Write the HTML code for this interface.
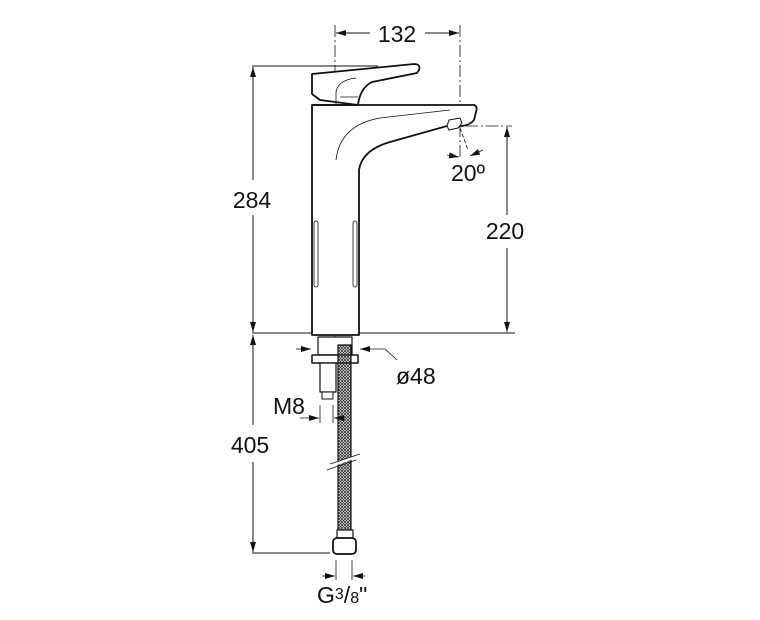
<!DOCTYPE html>
<html><head><style>html,body{margin:0;padding:0;background:#fff}svg{display:block}text{font-family:"Liberation Sans",sans-serif;fill:#111}</style></head>
<body>
<svg width="760" height="620" viewBox="0 0 760 620" xmlns="http://www.w3.org/2000/svg">
<defs>
<marker id="a" markerWidth="10" markerHeight="6" refX="10" refY="3" orient="auto" markerUnits="userSpaceOnUse"><path d="M0,0 L10,3 L0,6 z" fill="#111"/></marker>
<pattern id="mesh" width="3" height="3" patternUnits="userSpaceOnUse"><path d="M0,0 L3,3 M3,0 L0,3" stroke="#333" stroke-width="0.8"/></pattern>
</defs>
<g stroke="#111" fill="none" stroke-width="1">
<line x1="335" y1="25" x2="335" y2="345" stroke-dasharray="12,3,2,3" stroke-width="0.8"/>
<line x1="460" y1="25" x2="460" y2="160" stroke-dasharray="12,3,2,3" stroke-width="0.8"/>
<line x1="370" y1="33" x2="336" y2="33" marker-end="url(#a)"/>
<line x1="425" y1="33" x2="459" y2="33" marker-end="url(#a)"/>
<line x1="252" y1="66" x2="378" y2="66"/>
<line x1="253" y1="180" x2="253" y2="67" marker-end="url(#a)"/>
<line x1="253" y1="215" x2="253" y2="332" marker-end="url(#a)"/>
<line x1="252" y1="333" x2="515" y2="333"/>
<line x1="466" y1="126" x2="512" y2="126" stroke-dasharray="12,3,2,3" stroke-width="0.8"/>
<line x1="507" y1="215" x2="507" y2="127" marker-end="url(#a)"/>
<line x1="507" y1="248" x2="507" y2="332" marker-end="url(#a)"/>
<line x1="253" y1="425" x2="253" y2="335" marker-end="url(#a)"/>
<line x1="253" y1="462" x2="253" y2="552" marker-end="url(#a)"/>
<line x1="252" y1="553" x2="330" y2="553"/>
</g>
<g stroke="#111" fill="#fff" stroke-width="1.8" stroke-linejoin="round">
<path d="M312,74 L414,64 Q421,64 419,70 L417,73 L372,82 Q360,88 358,105 L320,100 L312,94 Z"/>
<path d="M336,104 L336,92 Q338,80 356,78" fill="none" stroke-width="0.8"/>
<path d="M340,97 L358,97" fill="none" stroke-width="0.8"/>
<path d="M312,105 L474,105 Q478,106 476,112 L474,120 Q470,125 462,126 L447,126 L390,142 Q362,150 359,170 L359,335 L312,335 Z"/>
<path d="M336,160 Q340,125 380,118 L450,110" fill="none" stroke-width="0.8"/>
<path d="M447,126 L449,130 L458,128 L462,123 L460,118 L449,120 Z" stroke-width="1"/>
<rect x="314" y="221" width="4" height="66" rx="2" stroke-width="0.8"/>
<rect x="353" y="221" width="4" height="66" rx="2" stroke-width="0.8"/>
<line x1="312" y1="105" x2="358" y2="105"/>
<rect x="318" y="337" width="34" height="18" stroke-width="1.2"/>
<rect x="312" y="355" width="46" height="8" stroke-width="1.5"/>
<rect x="320" y="363" width="16" height="29" stroke-width="1.2"/>
<rect x="322" y="392" width="11" height="7" stroke-width="1"/>
<rect x="338" y="345" width="13" height="186" fill="url(#mesh)" stroke-width="1.2"/>
<rect x="337" y="530" width="16" height="8" stroke-width="1.2"/>
<rect x="333" y="538" width="23" height="16" rx="4" stroke-width="1.8"/>
</g>
<g stroke="#fff" stroke-width="3"><line x1="330" y1="466" x2="358" y2="456"/></g>
<g stroke="#111" stroke-width="0.8" fill="none">
<line x1="327" y1="470" x2="356" y2="460"/><line x1="330" y1="464" x2="360" y2="454"/>
<line x1="296" y1="349" x2="311" y2="349" marker-end="url(#a)"/>
<line x1="378" y1="349" x2="360" y2="349" marker-end="url(#a)"/>
<polyline points="378,349 385,349 397,360"/>
<line x1="320" y1="405" x2="320" y2="423"/><line x1="333" y1="405" x2="333" y2="423"/>
<line x1="300" y1="418" x2="319" y2="418" marker-end="url(#a)"/>
<line x1="345" y1="418" x2="334" y2="418" marker-end="url(#a)"/>
<line x1="336" y1="560" x2="336" y2="580"/><line x1="352" y1="560" x2="352" y2="580"/>
<line x1="322" y1="576" x2="335" y2="576" marker-end="url(#a)"/>
<line x1="365" y1="576" x2="353" y2="576" marker-end="url(#a)"/>
<line x1="460" y1="128" x2="468" y2="150" stroke-dasharray="4,2"/>
<line x1="447" y1="155" x2="459" y2="157" marker-end="url(#a)"/>
<line x1="483" y1="150" x2="470" y2="156" marker-end="url(#a)"/>
</g>
<g font-size="23">
<text x="397" y="42" text-anchor="middle">132</text>
<text x="252" y="208" text-anchor="middle">284</text>
<text x="505" y="239" text-anchor="middle">220</text>
<text x="468" y="181" text-anchor="middle">20º</text>
<text x="396" y="384">ø48</text>
<text x="273" y="414">M8</text>
<text x="250" y="453" text-anchor="middle">405</text>
<text x="317" y="603">G<tspan font-size="16" dy="-4">3</tspan><tspan dy="4">/</tspan><tspan font-size="16">8</tspan>"</text>
</g>
</svg>
</body></html>
